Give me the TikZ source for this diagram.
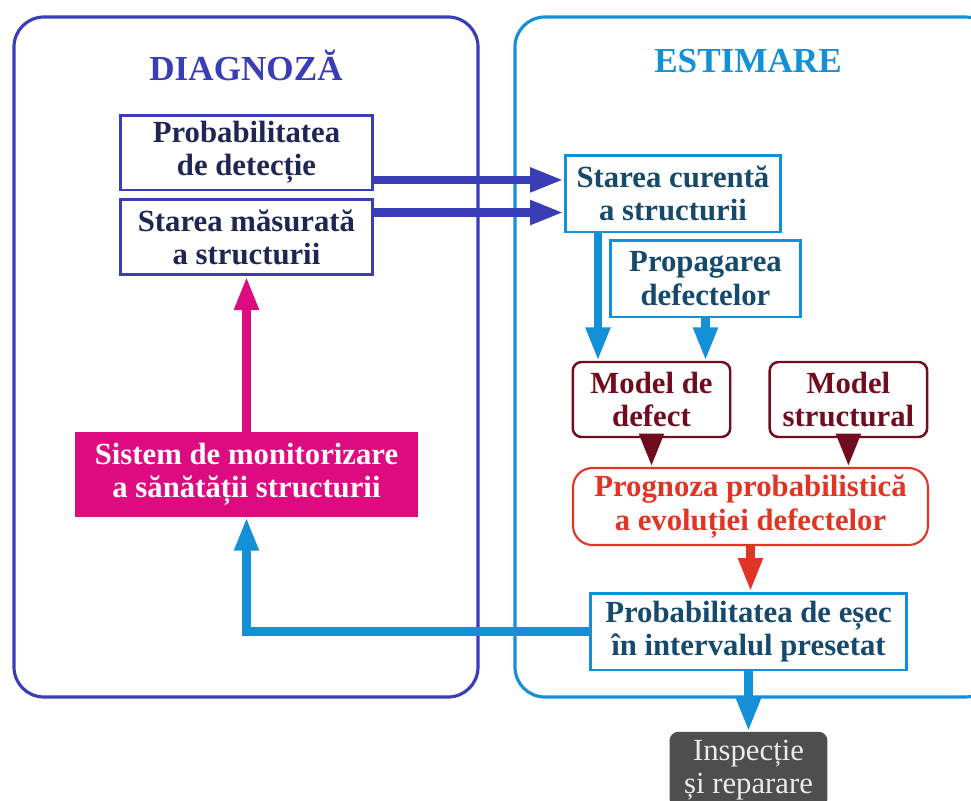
\documentclass[tikz,border=0pt]{standalone}
\usepackage{fontspec}
\setmainfont{Liberation Serif}
\usetikzlibrary{arrows.meta, positioning}

\definecolor{diagblue}{RGB}{58,62,182}
\definecolor{estblue}{RGB}{20,144,216}
\definecolor{navytext}{RGB}{32,38,84}
\definecolor{tealtext}{RGB}{22,74,108}
\definecolor{modelred}{RGB}{112,12,30}
\definecolor{progred}{RGB}{226,52,36}
\definecolor{monpink}{RGB}{222,10,128}
\definecolor{repgray}{RGB}{78,78,78}

\begin{document}
\begin{tikzpicture}[x=0.02cm, y=-0.02cm]
	\tikzset{every node/.style={align=center, font=\fontsize{17.5}{19}\selectfont\bfseries},
		title/.style={font=\fontsize{20}{24}\selectfont\bfseries},
		dbox/.style={draw=diagblue, line width=1.7pt, text=navytext, minimum width=5.06cm, minimum height=1.5cm},
		ebox/.style={draw=estblue, line width=1.7pt, text=tealtext, minimum height=1.54cm},
		mbox/.style={draw=modelred, line width=1.4pt, text=modelred, rounded corners=5pt, minimum width=3.15cm, minimum height=1.5cm},
		pbox/.style={draw=progred, line width=1.2pt, text=progred, rounded corners=11pt, minimum width=7.1cm, minimum height=1.54cm},
		sbox/.style={fill=monpink, text=white, minimum width=6.86cm, minimum height=1.7cm},
		ibox/.style={fill=repgray, text=black!8, rounded corners=5pt, minimum width=3.16cm, minimum height=1.52cm, font=\fontsize{17.5}{19}\selectfont},
		panel/.style={line width=1.8pt, rounded corners=17pt},
		fat/.style={line width=4.6pt, -{Triangle[width=13pt, length=19pt]}}}
	
	\useasboundingbox (0,0) rectangle (971,801);
	
	\draw[panel, diagblue] (14,17) rectangle (478,697);
	\draw[panel, estblue] (515,17) rectangle (995,697);
	\node[title, text=diagblue] (diagtitle) at (246,65) {DIAGNOZĂ};
	\node[title, text=estblue] (esttitle) at (748,61) {ESTIMARE};
	
	\node[dbox] (probdet) at (246.5,152.5) {Probabilitatea\\de detecție};
	\node[dbox, below=0.14cm of probdet] (starem) {Starea măsurată\\a structurii};
	\node[sbox] (sistem) at (246.5,474.5) {Sistem de monitorizare\\a sănătății structurii};
	
	\node[ebox, minimum width=4.32cm] (curenta) at (673,193.5) {Starea curentă\\a structurii};
	\node[ebox, minimum width=3.82cm] (propag) at (705.5,278.5) {Propagarea\\defectelor};
	\node[mbox] (mdefect) at (651.5,399.5) {Model de\\defect};
	\node[mbox, right=0.74cm of mdefect] (mstruct) {Model\\structural};
	\node[pbox] (prognoza) at (750.5,506.5) {Prognoza probabilistică\\a evoluției defectelor};
	\node[ebox, minimum width=6.34cm] (esec) at (748.5,631.5) {Probabilitatea de eșec\\în intervalul presetat};
	\node[ibox, below=1.2cm of esec] (inspectie) {Inspecție\\și reparare};
	
	\draw[fat, diagblue] ([yshift=-15.6pt]probdet.east) coordinate (p1) -- (p1 -| curenta.west);
	\draw[fat, diagblue] ([yshift=14.2pt]starem.east) coordinate (p2) -- (p2 -| curenta.west);
	\draw[fat, estblue] ([xshift=-42.7pt]curenta.south) coordinate (c1) -- (c1 |- mdefect.north);
	\draw[fat, estblue] (propag.south) -- (propag.south |- mdefect.north);
	\draw[fat, modelred] (mdefect.south) -- (mdefect.south |- prognoza.north);
	\draw[fat, modelred] (mstruct.south) -- (mstruct.south |- prognoza.north);
	\draw[fat, progred] (prognoza.south) -- (prognoza.south |- esec.north);
	\draw[fat, estblue] (esec.south) -- (inspectie.north);
	\draw[fat, estblue] (esec.west) -| (sistem.south);
	\draw[fat, monpink] (sistem.north) -- (starem.south);
\end{tikzpicture}
\end{document}
